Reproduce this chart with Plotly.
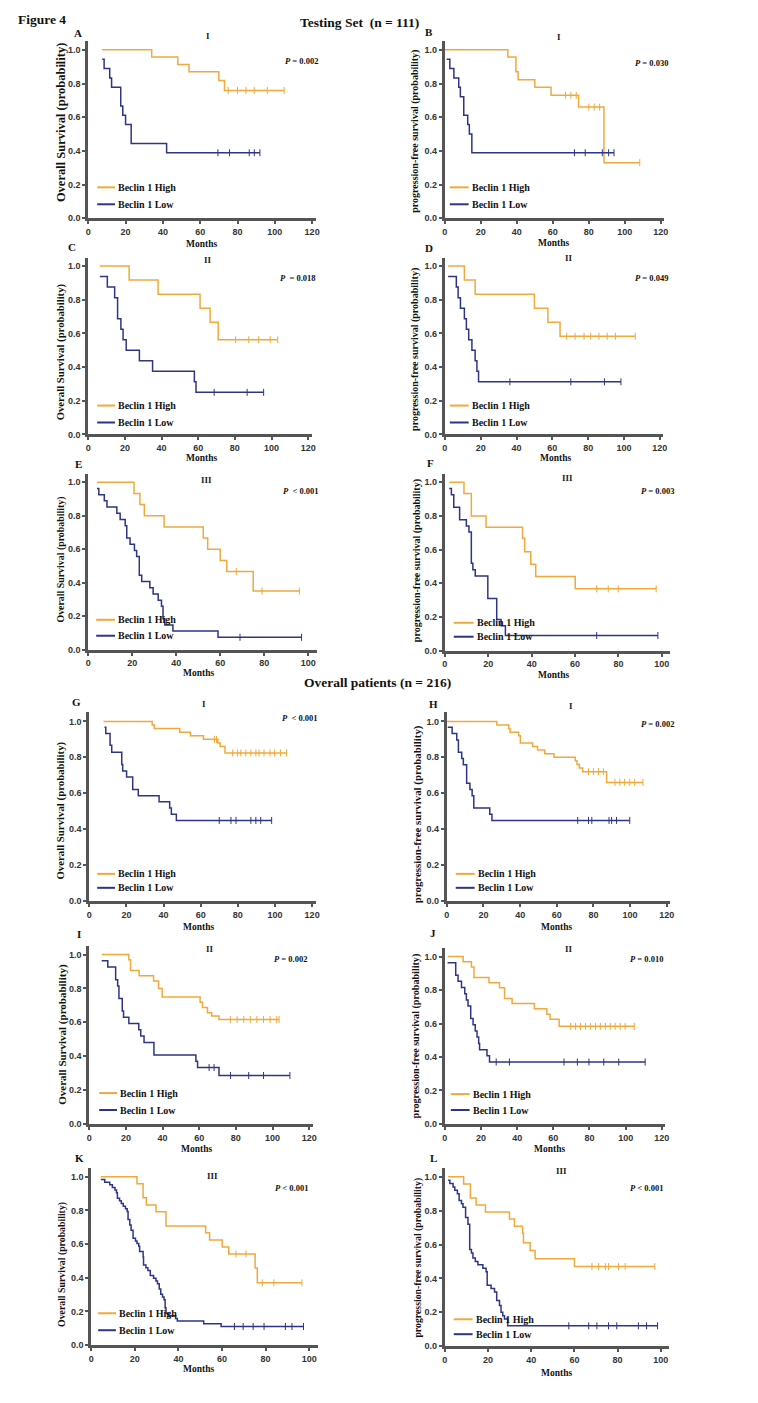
import bisect
import plotly.graph_objects as go

# ---------------- data ----------------
# each curve: step times (start ... end), survival after each step, censor times
A_high_t = [7.4, 34, 48, 54, 70, 73, 105]
A_high_s = [1.0, 0.957, 0.913, 0.870, 0.818, 0.759, 0.759]
A_high_c = [75, 80, 84.5, 89, 96, 105]
A_low_t = [7.5, 8.5, 11.5, 12.5, 17.4, 18.5, 20, 23, 42, 92]
A_low_s = [0.944, 0.889, 0.833, 0.778, 0.667, 0.611, 0.556, 0.444, 0.389, 0.389]
A_low_c = [69.5, 75.7, 86.3, 89, 92]

B_high_t = [0, 35, 39.5, 40.7, 50, 59, 74.3, 88.4, 108.3]
B_high_s = [1.0, 0.957, 0.870, 0.823, 0.778, 0.730, 0.660, 0.330, 0.330]
B_high_c = [67, 70, 73, 80, 83, 86, 108.3]
B_low_t = [1, 2.75, 5, 7.7, 8.6, 10.5, 12.7, 13.6, 15, 94]
B_low_s = [0.944, 0.889, 0.833, 0.778, 0.722, 0.611, 0.556, 0.500, 0.389, 0.389]
B_low_c = [72, 78, 87.5, 91, 94]

C_high_t = [6.3, 22.3, 38.1, 61, 66.5, 70.9, 103.4]
C_high_s = [1.0, 0.917, 0.833, 0.750, 0.667, 0.563, 0.563]
C_high_c = [80.4, 87.6, 93, 99.3, 103.4]
C_low_t = [6.3, 10.4, 14.4, 16, 17.8, 19, 20.7, 27.9, 35.1, 57.9, 58.8, 95.7]
C_low_s = [0.9375, 0.875, 0.8125, 0.6875, 0.625, 0.5625, 0.5, 0.4375, 0.375, 0.3125, 0.25, 0.25]
C_low_c = [68.7, 86.7, 95.7]

D_high_t = [1.8, 10.9, 16.9, 50, 57.5, 64.3, 106.3]
D_high_s = [1.0, 0.917, 0.833, 0.750, 0.667, 0.583, 0.583]
D_high_c = [68, 72.7, 77.7, 81.4, 86, 90.6, 95.2, 106.3]
D_low_t = [1.8, 6.4, 7.4, 8.7, 10.9, 12, 13.3, 15.1, 16.9, 17.9, 18.8, 98.3]
D_low_s = [0.9375, 0.875, 0.8125, 0.75, 0.6875, 0.625, 0.5625, 0.5, 0.4375, 0.375, 0.3125, 0.3125]
D_low_c = [36.3, 70.3, 89.1, 98.3]

E_high_t = [4, 20.8, 23.5, 25.5, 34.5, 52.3, 54.3, 60, 63, 75, 96]
E_high_s = [1.0, 0.933, 0.867, 0.800, 0.733, 0.667, 0.600, 0.533, 0.467, 0.350, 0.350]
E_high_c = [67.3, 79, 96]
E_low_t = [4, 4.8, 7.3, 8.5, 13, 14.5, 16.8, 17.5, 19, 21, 22, 23.2, 24.3, 28, 29.5,
           31.8, 33.3, 34, 34.8, 38.5, 59, 97]
E_low_s = [0.963, 0.926, 0.889, 0.852, 0.815, 0.778, 0.741, 0.667, 0.630, 0.593, 0.556,
           0.444, 0.407, 0.370, 0.333, 0.296, 0.259, 0.185, 0.148, 0.111, 0.074, 0.074]
E_low_c = [69, 97]

F_high_t = [2, 8.8, 12.2, 19, 35.8, 36.8, 39.6, 41.9, 60.1, 97.4]
F_high_s = [1.0, 0.933, 0.800, 0.733, 0.667, 0.587, 0.513, 0.440, 0.367, 0.367]
F_high_c = [70, 75.3, 79.9, 97.4]
F_low_t = [2, 3, 4.1, 6.8, 9.9, 11.1, 12.2, 12.9, 14, 19.8, 23.9, 25.9, 27.9, 98.2]
F_low_s = [0.963, 0.926, 0.852, 0.778, 0.741, 0.704, 0.519, 0.481, 0.444, 0.310, 0.185,
           0.148, 0.090, 0.090]
F_low_c = [70, 98.2]

G_high_t = [7.7, 33.9, 35, 48.7, 54.5, 61.5, 69.2, 70.5, 73.1, 106.2]
G_high_s = [1.0, 0.980, 0.960, 0.940, 0.920, 0.900, 0.880, 0.860, 0.824, 0.824]
G_high_c = [67.4, 68.5, 77.2, 79.9, 81.6, 84.3, 87, 89.7, 91.4, 94.1, 97.3, 99.8, 103, 106.2]
G_low_t = [8.2, 8.9, 11.2, 12.1, 17.5, 18, 20.1, 23.4, 26.4, 37.6, 43.3, 44.2, 46.9, 98.2]
G_low_s = [0.967, 0.933, 0.867, 0.828, 0.760, 0.724, 0.690, 0.620, 0.586, 0.552, 0.517,
           0.483, 0.448, 0.448]
G_low_c = [70, 76.3, 79, 87, 89.7, 92.3, 98.2]

H_high_t = [0, 27.3, 33.8, 34.5, 39.2, 40.1, 46.8, 49.5, 53.4, 58.5, 70.1, 71, 72.3, 74.1,
            87.2, 107]
H_high_s = [1.0, 0.98, 0.96, 0.94, 0.92, 0.88, 0.86, 0.84, 0.82, 0.80, 0.78, 0.76, 0.74,
            0.72, 0.66, 0.66]
H_high_c = [77.3, 80, 82.7, 85.4, 91.7, 94.4, 97, 99.8, 102.5, 107]
H_low_t = [0.5, 2.9, 5.4, 6.3, 8.1, 9, 10.8, 12.6, 13.8, 14.7, 23.4, 24.6, 99.8]
H_low_s = [0.967, 0.933, 0.897, 0.828, 0.793, 0.759, 0.655, 0.621, 0.586, 0.517, 0.483,
           0.448, 0.448]
H_low_c = [71.4, 77.3, 79.1, 88.5, 89.9, 92.6, 99.8]

I_high_t = [6.8, 21.6, 22.5, 27.2, 35.1, 37.8, 39.8, 60.5, 61.8, 64.5, 66.8, 70.8, 103.6]
I_high_s = [1.0, 0.969, 0.906, 0.875, 0.844, 0.800, 0.750, 0.719, 0.688, 0.656, 0.637,
            0.617, 0.617]
I_high_c = [77, 80.7, 84.3, 87.9, 91.5, 95.1, 98.7, 102.3, 103.6]
I_low_t = [6.8, 10.1, 14.4, 15.5, 16.2, 18, 18.7, 21.6, 27, 28.1, 29.9, 35.3, 58.2, 59.1,
           70.8, 109.5]
I_low_s = [0.963, 0.926, 0.852, 0.815, 0.741, 0.667, 0.630, 0.593, 0.556, 0.519, 0.481,
           0.407, 0.370, 0.333, 0.286, 0.286]
I_low_c = [65.4, 68.1, 77.1, 87, 95.1, 109.5]

J_high_t = [1.5, 10.1, 14.7, 16.1, 24.4, 30.2, 33, 37.2, 49.5, 56.4, 58.2, 63.2, 104.8]
J_high_s = [1.0, 0.969, 0.938, 0.875, 0.844, 0.813, 0.750, 0.719, 0.688, 0.656, 0.625,
            0.583, 0.583]
J_high_c = [69.6, 72.3, 75, 77.8, 80.5, 83.3, 86, 88.8, 91.5, 94.2, 97, 99.7, 104.8]
J_low_t = [1.5, 6, 7.3, 9.2, 11, 11.9, 12.8, 14.3, 15.6, 16.8, 17.8, 18.7, 19.2, 23.3, 24.7,
           110.8]
J_low_s = [0.963, 0.889, 0.852, 0.815, 0.778, 0.741, 0.704, 0.630, 0.593, 0.556, 0.519,
           0.481, 0.444, 0.407, 0.370, 0.370]
J_low_c = [28.4, 35.7, 65.9, 73.3, 79.7, 87.9, 96.2, 110.8]

K_high_t = [4.4, 21, 23.8, 25.3, 29.7, 34.3, 52.5, 54.3, 60.1, 63.1, 75.2, 76.2, 96.7]
K_high_s = [1.0, 0.958, 0.875, 0.833, 0.792, 0.708, 0.667, 0.625, 0.583, 0.542, 0.458,
            0.370, 0.370]
K_high_c = [66.4, 71, 78.5, 83.8, 96.7]
K_low_t = [4.4, 6.2, 8.5, 9.7, 10.9, 11.6, 12, 13, 13.8, 14.7, 15.7, 16.5, 16.9, 17.7, 18.3,
           19.2, 20.3, 21, 21.8, 22.2, 23.8, 24, 25.1, 26, 27.1, 28.6, 29.7, 30.4, 31.2,
           31.9, 32.7, 33.4, 33.9, 34.3, 35.4, 38.7, 39.5, 51.6, 59.6, 97.4]
K_low_s = [0.984, 0.968, 0.952, 0.937, 0.921, 0.905, 0.873, 0.857, 0.841, 0.825, 0.810,
           0.794, 0.746, 0.714, 0.683, 0.635, 0.619, 0.603, 0.587, 0.556, 0.524, 0.476,
           0.460, 0.444, 0.413, 0.397, 0.381, 0.365, 0.333, 0.302, 0.286, 0.270, 0.222,
           0.190, 0.175, 0.159, 0.143, 0.127, 0.111, 0.111]
K_low_c = [65.7, 69.7, 74.3, 79.3, 89.1, 92.1, 97.4]

L_high_t = [1.5, 8.7, 11.8, 14.5, 18.8, 29.9, 32.2, 36, 36.4, 39.5, 41.8, 60, 97.2]
L_high_s = [1.0, 0.958, 0.875, 0.833, 0.792, 0.750, 0.708, 0.667, 0.610, 0.565, 0.516,
            0.470, 0.470]
L_high_c = [68.1, 71.2, 74.3, 75.8, 80.4, 83.5, 97.2]
L_low_t = [1.5, 2.3, 3.8, 4.6, 5.8, 6.6, 7.7, 8.4, 9.6, 10.7, 11.5, 12.3, 13, 14.1, 15.3,
           17.6, 19.1, 19.6, 21.4, 23, 24, 25.3, 26, 26.8, 27.6, 29.1, 98.5]
L_low_s = [0.98, 0.96, 0.94, 0.92, 0.90, 0.86, 0.84, 0.82, 0.76, 0.72, 0.57, 0.55, 0.52,
           0.50, 0.48, 0.46, 0.44, 0.36, 0.34, 0.32, 0.27, 0.24, 0.20, 0.18, 0.16, 0.12, 0.12]
L_low_c = [57.4, 66.6, 70.4, 75.8, 79.6, 89.6, 93.4, 98.5]

stage_labels = ["I", "I", "II", "II", "III", "III", "I", "I", "II", "II", "III", "III"]
p_labels = ["P = 0.002", "P = 0.030", "P  = 0.018", "P = 0.049", "P  &lt; 0.001", "P = 0.003",
            "P  &lt; 0.001", "P = 0.002", "P = 0.002", "P = 0.010", "P &lt; 0.001", "P &lt; 0.001"]
panel_letters = list("ABCDEFGHIJKL")
os_title = "Overall Survival (probability)"
pfs_title = "progression-free survival (probability)"
group_names = ["Beclin 1 High", "Beclin 1 Low"]

curves = {
    "A": (A_high_t, A_high_s, A_high_c, A_low_t, A_low_s, A_low_c),
    "B": (B_high_t, B_high_s, B_high_c, B_low_t, B_low_s, B_low_c),
    "C": (C_high_t, C_high_s, C_high_c, C_low_t, C_low_s, C_low_c),
    "D": (D_high_t, D_high_s, D_high_c, D_low_t, D_low_s, D_low_c),
    "E": (E_high_t, E_high_s, E_high_c, E_low_t, E_low_s, E_low_c),
    "F": (F_high_t, F_high_s, F_high_c, F_low_t, F_low_s, F_low_c),
    "G": (G_high_t, G_high_s, G_high_c, G_low_t, G_low_s, G_low_c),
    "H": (H_high_t, H_high_s, H_high_c, H_low_t, H_low_s, H_low_c),
    "I": (I_high_t, I_high_s, I_high_c, I_low_t, I_low_s, I_low_c),
    "J": (J_high_t, J_high_s, J_high_c, J_low_t, J_low_s, J_low_c),
    "K": (K_high_t, K_high_s, K_high_c, K_low_t, K_low_s, K_low_c),
    "L": (L_high_t, L_high_s, L_high_c, L_low_t, L_low_s, L_low_c),
}

# ---------------- layout geometry (window pixels) ----------------
WIN_W, WIN_H = 758, 1403
OFF = 8                      # default page margin of the html body
W, H = WIN_W - 2 * OFF, WIN_H - 2 * OFF
# left px (x=0), px of last tick, last tick value, range max, px of y=0, px of y=1
geom = {
    "A": (86, 312, 120, 122, 219, 50),
    "B": (446, 664, 120, 122, 219, 50),
    "C": (86, 308, 120, 122, 436, 267),
    "D": (446, 663, 120, 122, 436, 267),
    "E": (86, 308, 100, 104, 652, 484),
    "F": (446, 665, 100, 104, 653, 484),
    "G": (87, 312, 120, 122, 904, 724),
    "H": (448, 670, 120, 122, 904, 724),
    "I": (87, 309, 120, 122, 1128, 958),
    "J": (446, 665, 120, 122, 1128, 960),
    "K": (89, 309, 100, 104, 1350, 1181),
    "L": (446, 664, 100, 104, 1351, 1181),
}
letter_pos = {"A": (76, 33), "B": (430, 32), "C": (70, 248), "D": (430, 249), "E": (76, 466),
              "F": (431, 465), "G": (74, 705), "H": (435, 707), "I": (77, 937), "J": (434, 936),
              "K": (77, 1162), "L": (435, 1162)}
stage_pos = {"A": (207, 36), "B": (561, 37), "C": (207, 261), "D": (571, 259), "E": (205, 482),
             "F": (570, 480), "G": (203, 707), "H": (573, 709), "I": (209, 952), "J": (571, 952),
             "K": (211, 1180), "L": (564, 1175)}
p_pos = {"A": (283, 61), "B": (636, 63), "C": (278, 279), "D": (636, 279), "E": (281, 493),
         "F": (642, 493), "G": (280, 721), "H": (642, 727), "I": (271, 962), "J": (631, 962),
         "K": (272, 1192), "L": (631, 1192)}
months_pos = {"A": (200, 245), "B": (556, 244), "C": (200, 460), "D": (558, 460), "E": (197, 675),
              "F": (556, 677), "G": (197, 930), "H": (559, 930), "I": (195, 1153), "J": (552, 1153),
              "K": (197, 1374), "L": (559, 1378)}
ytitle_pos = {"A": (58, 123, 12.5), "B": (415, 132, 10), "C": (58, 353, 10.7), "D": (416, 351, 10),
              "E": (58, 562, 9.9), "F": (418, 563, 10), "G": (58, 814, 10.8), "H": (418, 817, 10.9),
              "I": (60, 1038, 11), "J": (417, 1040, 10.1), "K": (60, 1269, 9.8), "L": (419, 1262, 9.8)}
# legend: key x0, x1, text x, y high, y low
legend_pos = {"A": (95, 113, 114, 188, 205), "B": (451, 470, 471, 188, 205),
              "C": (95, 113, 114, 407, 424), "D": (451, 470, 471, 407, 424),
              "E": (94, 113, 114, 622, 638), "F": (455, 475, 476, 625, 639),
              "G": (95, 113, 114, 877, 891), "H": (457, 476, 477, 877, 891),
              "I": (97, 115, 116, 1097, 1114), "J": (452, 471, 472, 1098, 1114),
              "K": (96, 114, 115, 1318, 1335), "L": (455, 474, 475, 1324, 1339)}

HIGH = "#F2A93B"
LOW = "#2D3587"
AXC = "#555555"
SERIF = "Liberation Serif, Times New Roman, serif"
SANS = "Liberation Sans, Arial, sans-serif"


def xp(px):
    return (px - OFF) / W


def yp(py):
    return 1 - (py - OFF) / H


def step_value(ts, ss, t):
    i = bisect.bisect_right(ts, t) - 1
    return ss[max(i, 0)]


def note(x, y, text, size, xanchor="center", weight="bold", angle=0, color="#111"):
    return dict(x=xp(x), y=yp(y), xref="paper", yref="paper", text=text, showarrow=False,
                xanchor=xanchor, yanchor="middle", textangle=angle,
                font=dict(family=SERIF, size=size, color=color, weight=weight))


fig = go.Figure()
annotations = []
shapes = []

for idx, L in enumerate(panel_letters, start=1):
    left, tickpx, tickmax, rmax, y0px, y1px = geom[L]
    ppu = (tickpx - left) / tickmax
    right = left + rmax * ppu
    top = y0px - 1.05 * (y0px - y1px)
    xname = "x" if idx == 1 else f"x{idx}"
    yname = "y" if idx == 1 else f"y{idx}"
    xkey = "xaxis" if idx == 1 else f"xaxis{idx}"
    ykey = "yaxis" if idx == 1 else f"yaxis{idx}"

    ht, hs, hc, lt, ls, lc = curves[L]
    for ts, ss, cs, col in ((ht, hs, hc, HIGH), (lt, ls, lc, LOW)):
        fig.add_trace(go.Scatter(x=ts, y=ss, mode="lines", line=dict(color=col, width=1.5, shape="hv"),
                                 xaxis=xname, yaxis=yname, showlegend=False, hoverinfo="skip"))
        fig.add_trace(go.Scatter(x=cs, y=[step_value(ts, ss, c) for c in cs], mode="markers",
                                 marker=dict(symbol="line-ns-open", size=5, color=col,
                                             line=dict(color=col, width=1)),
                                 xaxis=xname, yaxis=yname, showlegend=False, hoverinfo="skip"))

    common = dict(showgrid=False, zeroline=False, showline=True, linecolor=AXC, linewidth=3,
                  ticks="outside", ticklen=3, tickwidth=1.5, tickcolor=AXC,
                  tickfont=dict(family=SANS, size=9, color="#333333", weight="bold"))
    fig.layout[xkey] = dict(domain=[xp(left), xp(right)], range=[0, rmax], anchor=yname,
                            tickvals=list(range(0, tickmax + 1, 20)), **common)
    fig.layout[ykey] = dict(domain=[yp(y0px), yp(top)], range=[0, 1.05], anchor=xname,
                            tickvals=[0, 0.2, 0.4, 0.6, 0.8, 1.0], tickformat=".1f", **common)

    lx, ly = letter_pos[L]
    annotations.append(note(lx, ly, L, 11))
    sx, sy = stage_pos[L]
    annotations.append(note(sx, sy, stage_labels[idx - 1], 9, color="#222"))
    px_, py_ = p_pos[L]
    annotations.append(note(px_, py_, p_labels[idx - 1].replace("P", "<i>P</i>", 1), 8.5, xanchor="left"))
    mx, my = months_pos[L]
    annotations.append(note(mx, my, "Months", 9.5))
    tx, ty, tsz = ytitle_pos[L]
    annotations.append(note(tx, ty, os_title if idx % 2 == 1 else pfs_title, tsz, angle=-90))
    kx0, kx1, ktx, kyh, kyl = legend_pos[L]
    for name, col, ky in ((group_names[0], HIGH, kyh), (group_names[1], LOW, kyl)):
        shapes.append(dict(type="line", xref="paper", yref="paper", x0=xp(kx0), x1=xp(kx1),
                           y0=yp(ky), y1=yp(ky), line=dict(color=col, width=2)))
        annotations.append(note(ktx, ky, name, 10, xanchor="left"))

annotations.append(note(13, 20, "Figure 4", 13.5, xanchor="left"))
annotations.append(note(360, 23, "Testing Set  (n = 111)", 13.5))
annotations.append(note(378, 685, "Overall patients (n = 216)", 13.5))

fig.update_layout(width=W, height=H, autosize=False, margin=dict(l=0, r=0, t=0, b=0),
                  paper_bgcolor="white", plot_bgcolor="white", showlegend=False,
                  annotations=annotations, shapes=shapes)

fig.write_html("out.html")
